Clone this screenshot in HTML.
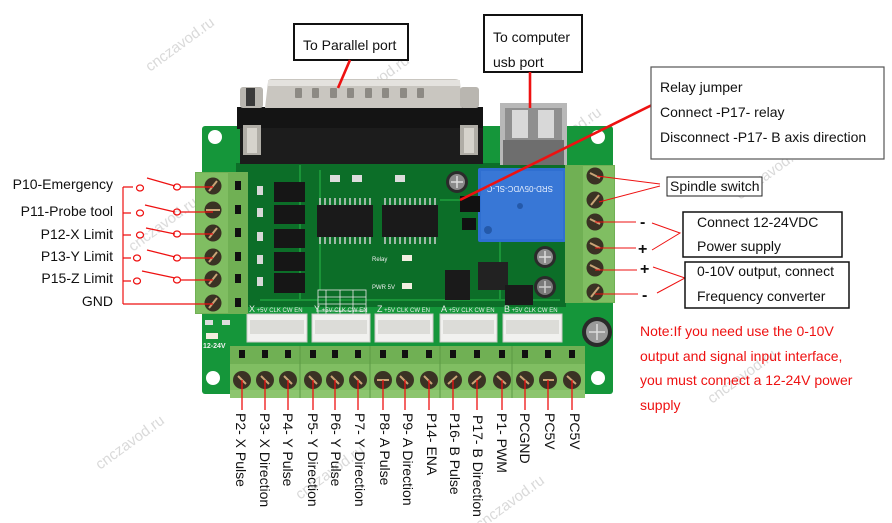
<!DOCTYPE html>
<html><head><meta charset="utf-8"><style>
html,body{margin:0;padding:0;background:#fff;}
svg{display:block;}
text{font-family:"Liberation Sans",Arial,sans-serif;}
</style></head><body>
<svg width="892" height="523" viewBox="0 0 892 523" xmlns="http://www.w3.org/2000/svg">
<rect width="892" height="523" fill="#fff"/>

<!-- watermarks -->
<g fill="#cdcdcd" font-size="15" opacity="0.75">
<text transform="translate(150,72) rotate(-36)">cnczavod.ru</text>
<text transform="translate(345,110) rotate(-36)">cnczavod.ru</text>
<text transform="translate(537,162) rotate(-36)">cnczavod.ru</text>
<text transform="translate(740,200) rotate(-36)">cnczavod.ru</text>
<text transform="translate(100,470) rotate(-36)">cnczavod.ru</text>
<text transform="translate(300,500) rotate(-36)">cnczavod.ru</text>
<text transform="translate(480,530) rotate(-36)">cnczavod.ru</text>
<text transform="translate(712,404) rotate(-36)">cnczavod.ru</text>
<text transform="translate(133,252) rotate(-36)">cnczavod.ru</text>
</g>

<!-- BOARD -->
<rect x="202" y="126" width="411" height="268" rx="3" fill="#15963a"/>
<rect x="236" y="163" width="330" height="144" fill="#0c6e28"/>
<path d="M300 165 L300 300 M320 170 L320 290 M440 200 L500 200 L500 300 M260 300 L560 300" stroke="#1a9438" stroke-width="2" fill="none"/>
<!-- mounting holes -->
<circle cx="215" cy="137" r="7" fill="#fff"/>
<circle cx="598" cy="137" r="7" fill="#fff"/>
<circle cx="213" cy="378" r="7" fill="#fff"/>
<circle cx="598" cy="378" r="7" fill="#fff"/>

<!-- DB25 connector -->
<rect x="237" y="107" width="246" height="22" fill="#141414"/>
<rect x="240" y="128" width="243" height="36" fill="#1c1c1c"/>
<path d="M268 82 Q268 79 272 79 L455 79 Q459 79 460 82 L462 108 L265 108 Z" fill="#c9c6c0"/>
<rect x="268" y="80" width="192" height="6" fill="#e4e2de"/>
<g fill="#8d8a84">
<rect x="295" y="88" width="7" height="10" rx="1"/><rect x="312" y="88" width="7" height="10" rx="1"/>
<rect x="330" y="88" width="7" height="10" rx="1"/><rect x="347" y="88" width="7" height="10" rx="1"/>
<rect x="365" y="88" width="7" height="10" rx="1"/><rect x="382" y="88" width="7" height="10" rx="1"/>
<rect x="400" y="88" width="7" height="10" rx="1"/><rect x="417" y="88" width="7" height="10" rx="1"/>
</g>
<rect x="240" y="87" width="23" height="21" rx="3" fill="#b9b6b0"/>
<rect x="246" y="88" width="9" height="18" fill="#3a3a3a"/>
<rect x="460" y="87" width="19" height="21" rx="3" fill="#b9b6b0"/>
<rect x="243" y="125" width="18" height="30" fill="#b0ada6"/>
<rect x="247" y="128" width="10" height="25" fill="#d6d3cc"/>
<rect x="460" y="125" width="18" height="30" fill="#b0ada6"/>
<rect x="464" y="128" width="10" height="25" fill="#d6d3cc"/>

<!-- USB -->
<rect x="500" y="103" width="67" height="62" fill="#b8b8b8"/>
<rect x="505" y="108" width="57" height="55" fill="#8f8f8f"/>
<rect x="512" y="110" width="16" height="28" fill="#d8d8d8"/>
<rect x="538" y="110" width="16" height="28" fill="#d8d8d8"/>
<rect x="503" y="140" width="61" height="25" fill="#6e6e6e"/>

<!-- optocouplers -->
<g fill="#161616">
<rect x="274" y="182" width="31" height="20"/><rect x="274" y="205" width="31" height="19"/>
<rect x="274" y="229" width="31" height="19"/><rect x="274" y="252" width="31" height="19"/>
<rect x="274" y="273" width="31" height="20"/>
</g>
<g fill="#d8d8d8">
<rect x="257" y="186" width="6" height="9"/><rect x="257" y="208" width="6" height="9"/>
<rect x="257" y="232" width="6" height="9"/><rect x="257" y="255" width="6" height="9"/>
<rect x="257" y="277" width="6" height="9"/>
</g>

<!-- ICs -->
<g stroke="#cfcfcf" stroke-width="1.5">
<path d="M320 198v7M325 198v7M330 198v7M335 198v7M340 198v7M345 198v7M350 198v7M355 198v7M360 198v7M365 198v7M370 198v7"/>
<path d="M320 237v7M325 237v7M330 237v7M335 237v7M340 237v7M345 237v7M350 237v7M355 237v7M360 237v7M365 237v7M370 237v7"/>
<path d="M385 198v7M390 198v7M395 198v7M400 198v7M405 198v7M410 198v7M415 198v7M420 198v7M425 198v7M430 198v7M435 198v7"/>
<path d="M385 237v7M390 237v7M395 237v7M400 237v7M405 237v7M410 237v7M415 237v7M420 237v7M425 237v7M430 237v7M435 237v7"/>
</g>
<rect x="317" y="205" width="56" height="32" fill="#1a1a1a"/>
<rect x="382" y="205" width="56" height="32" fill="#1a1a1a"/>
<g fill="#dcdcdc">
<rect x="330" y="175" width="10" height="7"/><rect x="352" y="175" width="10" height="7"/><rect x="395" y="175" width="10" height="7"/>
</g>

<!-- grid table -->
<g stroke="#e8e8e8" stroke-width="0.8" fill="none">
<rect x="318" y="290" width="48" height="44"/>
<path d="M318 297h48M318 304h48M318 311h48M318 318h48M318 325h48M326 290v44M340 290v44M353 290v44"/>
</g>
<text x="318" y="342" font-size="4" fill="#e8e8e8">P10 SEN PIN P1-PWM</text>

<!-- relay -->
<rect x="478" y="168" width="88" height="74" rx="2" fill="#2f6fd1"/>
<rect x="481" y="171" width="82" height="68" fill="#3877d6"/>
<text transform="translate(553,186) rotate(180)" font-size="8" fill="#e6eefc">SRD-05VDC-SL-C</text>
<circle cx="488" cy="230" r="4" fill="#2459aa"/>
<circle cx="520" cy="206" r="3" fill="#2459aa"/>

<!-- center parts -->
<rect x="460" y="196" width="20" height="16" fill="#111"/>
<rect x="462" y="218" width="14" height="12" fill="#111"/>
<rect x="478" y="262" width="30" height="28" fill="#222"/>
<rect x="445" y="270" width="25" height="30" fill="#1a1a1a"/>
<rect x="505" y="285" width="28" height="20" fill="#1a1a1a"/>
<rect x="402" y="255" width="10" height="6" fill="#f2eee0"/>
<rect x="402" y="283" width="10" height="6" fill="#f2eee0"/>
<text x="372" y="261" font-size="6" fill="#eee">Relay</text>
<text x="372" y="289" font-size="6" fill="#eee">PWR 5V</text>
<!-- capacitors -->
<circle cx="457" cy="182" r="11" fill="#2b2b2b"/><circle cx="457" cy="182" r="8" fill="#8a8a8a"/><path d="M451 182h12M457 176v12" stroke="#ddd" stroke-width="1.5"/>
<circle cx="545" cy="257" r="11" fill="#2b2b2b"/><circle cx="545" cy="257" r="8" fill="#8d8d8d"/><path d="M539 257h12M545 251v12" stroke="#ddd" stroke-width="1.5"/>
<circle cx="545" cy="287" r="11" fill="#2b2b2b"/><circle cx="545" cy="287" r="8" fill="#7a7a7a"/><path d="M539 287h12M545 281v12" stroke="#ccc" stroke-width="1.5"/>
<circle cx="597" cy="332" r="15" fill="#2a2a2a"/><circle cx="597" cy="332" r="11" fill="#9a9a9a"/><path d="M589 332h16M597 324v16" stroke="#ddd" stroke-width="1.5"/>

<!-- JST connectors -->
<g fill="#f1f1ef" stroke="#c9c9c6" stroke-width="1">
<rect x="247" y="314" width="60" height="28"/><rect x="312" y="314" width="58" height="28"/>
<rect x="375" y="314" width="58" height="28"/><rect x="440" y="314" width="57" height="28"/>
<rect x="503" y="314" width="59" height="28"/>
</g>
<g fill="#dcdcd8">
<rect x="250" y="320" width="54" height="14"/><rect x="315" y="320" width="52" height="14"/>
<rect x="378" y="320" width="52" height="14"/><rect x="443" y="320" width="51" height="14"/>
<rect x="506" y="320" width="53" height="14"/>
</g>
<g fill="#eaeaea" font-size="6">
<text x="249" y="312"><tspan font-size="9">X</tspan> +5V CLK CW EN</text>
<text x="314" y="312"><tspan font-size="9">Y</tspan> +5V CLK CW EN</text>
<text x="377" y="312"><tspan font-size="9">Z</tspan> +5V CLK CW EN</text>
<text x="441" y="312"><tspan font-size="9">A</tspan> +5V CLK CW EN</text>
<text x="504" y="312"><tspan font-size="9">B</tspan> +5V CLK CW EN</text>
</g>
<rect x="205" y="320" width="8" height="5" fill="#ddd"/><rect x="222" y="320" width="8" height="5" fill="#ddd"/>
<rect x="206" y="333" width="12" height="6" fill="#f3eede"/>
<text x="203" y="348" font-size="7" fill="#f0f0f0" font-weight="bold">12-24V</text>

<!-- LEFT terminal block -->
<rect x="195" y="172" width="53" height="142" fill="#70b054"/>
<rect x="196" y="173" width="32" height="140" fill="#80be62"/>
<g fill="#111">
<rect x="235" y="181" width="6" height="9"/><rect x="235" y="205" width="6" height="9"/>
<rect x="235" y="228" width="6" height="9"/><rect x="235" y="252" width="6" height="9"/>
<rect x="235" y="274" width="6" height="9"/><rect x="235" y="298" width="6" height="9"/>
</g>
<g>
<circle cx="213" cy="186" r="8.5" fill="#3a3224"/><circle cx="213" cy="210" r="8.5" fill="#3a3224"/>
<circle cx="213" cy="233" r="8.5" fill="#3a3224"/><circle cx="213" cy="257" r="8.5" fill="#3a3224"/>
<circle cx="213" cy="279" r="8.5" fill="#3a3224"/><circle cx="213" cy="303" r="8.5" fill="#3a3224"/>
</g>
<g stroke="#c9a476" stroke-width="2">
<path d="M209 191L217 181M206 210h14M209 238L217 228M209 262L217 252M209 284L217 274M209 308L217 298"/>
</g>

<!-- RIGHT terminal block -->
<rect x="565" y="165" width="50" height="138" fill="#70b054"/>
<rect x="583" y="166" width="31" height="136" fill="#80be62"/>
<g fill="#3a3224">
<circle cx="595" cy="176" r="8.5"/><circle cx="595" cy="200" r="8.5"/><circle cx="595" cy="222" r="8.5"/>
<circle cx="595" cy="246" r="8.5"/><circle cx="595" cy="268" r="8.5"/><circle cx="595" cy="292" r="8.5"/>
</g>
<g stroke="#c9a476" stroke-width="2">
<path d="M590 173l10 5M591 205L599 195M590 219l10 5M590 243l10 5M590 265l10 5M591 297L599 287"/>
</g>

<!-- BOTTOM terminal block -->
<rect x="230" y="346" width="355" height="52" fill="#70b054"/>
<rect x="230" y="364" width="355" height="30" fill="#80be62"/>
<rect x="230" y="390" width="355" height="8" fill="#8cc56e"/>
<path d="M300 346v52M370 346v52M440 346v52M512 346v52" stroke="#5c9a45" stroke-width="1"/>
<g fill="#111">
<rect x="239" y="350" width="6" height="8"/><rect x="262" y="350" width="6" height="8"/><rect x="285" y="350" width="6" height="8"/>
<rect x="310" y="350" width="6" height="8"/><rect x="332" y="350" width="6" height="8"/><rect x="355" y="350" width="6" height="8"/>
<rect x="380" y="350" width="6" height="8"/><rect x="402" y="350" width="6" height="8"/><rect x="426" y="350" width="6" height="8"/>
<rect x="450" y="350" width="6" height="8"/><rect x="474" y="350" width="6" height="8"/><rect x="499" y="350" width="6" height="8"/>
<rect x="522" y="350" width="6" height="8"/><rect x="545" y="350" width="6" height="8"/><rect x="569" y="350" width="6" height="8"/>
</g>
<g fill="#3a3224">
<circle cx="242" cy="380" r="9"/><circle cx="265" cy="380" r="9"/><circle cx="288" cy="380" r="9"/>
<circle cx="313" cy="380" r="9"/><circle cx="335" cy="380" r="9"/><circle cx="358" cy="380" r="9"/>
<circle cx="383" cy="380" r="9"/><circle cx="405" cy="380" r="9"/><circle cx="429" cy="380" r="9"/>
<circle cx="453" cy="380" r="9"/><circle cx="477" cy="380" r="9"/><circle cx="502" cy="380" r="9"/>
<circle cx="525" cy="380" r="9"/><circle cx="548" cy="380" r="9"/><circle cx="572" cy="380" r="9"/>
</g>
<g stroke="#c9a476" stroke-width="2">
<path d="M238 376l8 8M261 376l8 8M284 376l8 8M309 376l8 8M331 376l8 8M354 376l8 8M377 380h12M400 376l8 8M424 376l8 8M448 384l9 -8M472 384l9 -8M497 376l9 8M520 376l9 8M543 380h11M567 376l9 8"/>
</g>

<!-- bottom red lines and labels -->
<g stroke="#ee1111" stroke-width="1.3">
<path d="M242 380V410M265 380V410M288 380V410M313 380V410M335 380V410M358 380V410M383 380V410M405 380V410M429 380V410M453 380V410M477 380V410M502 380V410M525 380V410M548 380V410M572 380V410"/>
</g>
<g font-size="14" fill="#111">
<text transform="translate(236,413) rotate(90)">P2- X Pulse</text>
<text transform="translate(260,413) rotate(90)">P3- X Direction</text>
<text transform="translate(283,413) rotate(90)">P4- Y Pulse</text>
<text transform="translate(308,413) rotate(90)">P5- Y Direction</text>
<text transform="translate(331,413) rotate(90)">P6- Y Pulse</text>
<text transform="translate(355,413) rotate(90)">P7- Y Direction</text>
<text transform="translate(380,413) rotate(90)">P8- A Pulse</text>
<text transform="translate(403,413) rotate(90)">P9- A Direction</text>
<text transform="translate(427,413) rotate(90)">P14- ENA</text>
<text transform="translate(450,413) rotate(90)">P16- B Pulse</text>
<text transform="translate(473,415) rotate(90)">P17- B Direction</text>
<text transform="translate(497,413) rotate(90)">P1- PWM</text>
<text transform="translate(520,413) rotate(90)">PCGND</text>
<text transform="translate(545,413) rotate(90)">PC5V</text>
<text transform="translate(570,413) rotate(90)">PC5V</text>
</g>

<!-- LEFT labels and switches -->
<g font-size="14" fill="#111" text-anchor="end">
<text x="113" y="189">P10-Emergency</text>
<text x="113" y="216">P11-Probe tool</text>
<text x="113" y="239">P12-X Limit</text>
<text x="113" y="261">P13-Y Limit</text>
<text x="113" y="283">P15-Z Limit</text>
<text x="113" y="306">GND</text>
</g>
<g stroke="#ee1111" stroke-width="1.2" fill="none">
<path d="M123 187V304M123 304H213"/>
<path d="M123 187h10M123 213h8M123 235h8M123 258h8M123 281h8"/>
<path d="M147 178L175 186M145 205L175 212M146 228L175 234M147 250L175 257M142 271L175 278"/>
<path d="M181 187H213M181 212H213M181 234H213M181 258H213M181 280H213"/>
<ellipse cx="140" cy="188" rx="3.5" ry="3"/><ellipse cx="177" cy="187" rx="3.5" ry="3"/>
<ellipse cx="140" cy="213" rx="3.5" ry="3"/><ellipse cx="177" cy="212" rx="3.5" ry="3"/>
<ellipse cx="140" cy="235" rx="3.5" ry="3"/><ellipse cx="177" cy="234" rx="3.5" ry="3"/>
<ellipse cx="137" cy="258" rx="3.5" ry="3"/><ellipse cx="177" cy="258" rx="3.5" ry="3"/>
<ellipse cx="137" cy="281" rx="3.5" ry="3"/><ellipse cx="177" cy="280" rx="3.5" ry="3"/>
</g>

<!-- top callouts -->
<rect x="294" y="24" width="114" height="36" fill="#fff" stroke="#111" stroke-width="2"/>
<text x="303" y="50" font-size="14" fill="#111">To Parallel port</text>
<rect x="484" y="15" width="98" height="57" fill="#fff" stroke="#111" stroke-width="2"/>
<text x="493" y="42" font-size="14" fill="#111">To computer</text>
<text x="493" y="67" font-size="14" fill="#111">usb port</text>
<g stroke="#ee1111" stroke-width="2.6">
<path d="M350 60L338 88"/>
<path d="M530 72V108"/>
<path d="M652 105L460 200"/>
</g>
<rect x="651" y="67" width="233" height="92" fill="#fff" stroke="#555" stroke-width="1.2"/>
<g font-size="14" fill="#111">
<text x="660" y="92">Relay jumper</text>
<text x="660" y="117">Connect -P17- relay</text>
<text x="660" y="142">Disconnect -P17- B axis direction</text>
</g>

<!-- right callouts -->
<g stroke="#ee1111" stroke-width="1" fill="none">
<path d="M597 176L660 184M599 202L660 186"/>
<path d="M595 222H636M652 223L680 233L652 250M595 248H636"/>
<path d="M595 270H637M653 267L685 278L657 293M595 294H638"/>
</g>
<rect x="667" y="177" width="95" height="19" fill="#fff" stroke="#222" stroke-width="1"/>
<text x="670" y="191" font-size="14" fill="#111">Spindle switch</text>
<rect x="683" y="212" width="159" height="45" fill="#fff" stroke="#111" stroke-width="1.5"/>
<text x="697" y="227" font-size="14" fill="#111">Connect 12-24VDC</text>
<text x="697" y="251" font-size="14" fill="#111">Power supply</text>
<rect x="685" y="262" width="164" height="46" fill="#fff" stroke="#111" stroke-width="1.5"/>
<text x="697" y="276" font-size="14" fill="#111">0-10V output, connect</text>
<text x="697" y="301" font-size="14" fill="#111">Frequency converter</text>
<g font-size="16" font-weight="bold" fill="#111">
<text x="640" y="227">-</text>
<text x="638" y="254">+</text>
<text x="640" y="274">+</text>
<text x="642" y="300">-</text>
</g>

<!-- note -->
<g font-size="14" fill="#ee1111">
<text x="640" y="336">Note:If you need use the 0-10V</text>
<text x="640" y="361">output and signal input interface,</text>
<text x="640" y="385">you must connect a 12-24V power</text>
<text x="640" y="410">supply</text>
</g>
</svg>
</body></html>
